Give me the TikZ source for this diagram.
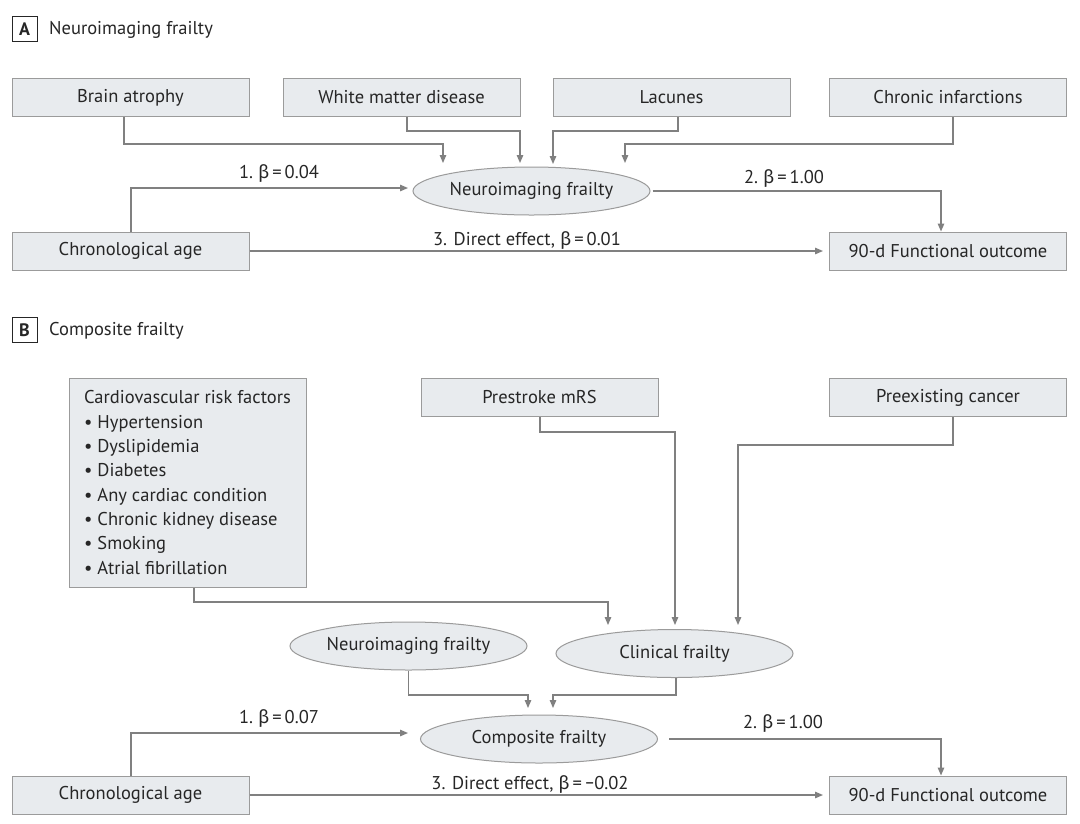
\documentclass[tikz,border=0pt]{standalone}
\usepackage{fontspec}
\setmainfont{PT Sans}
\newfontfamily\grk{Fira Sans}
\usetikzlibrary{arrows.meta,shapes.geometric}
\newcommand{\bb}{{\grk β}}
\newcommand{\mm}{{\grk −}}
\definecolor{boxfill}{HTML}{E8EBEE}
\definecolor{boxline}{HTML}{9B9B9B}
\definecolor{arrc}{HTML}{808080}
\definecolor{txt}{HTML}{262626}
\begin{document}
\begin{tikzpicture}[x=1pt,y=-1pt,
  font=\fontsize{18.5}{22}\selectfont,
  box/.style={draw=boxline, fill=boxfill, line width=1pt, minimum width=237pt, minimum height=38pt, inner sep=0pt, text=txt},
  oval/.style={ellipse, draw=boxline, fill=boxfill, line width=1pt, minimum width=237pt, minimum height=48pt, inner sep=0pt, text=txt},
  arr/.style={draw=arrc, line width=1.3pt, -{Triangle[length=8pt,width=6.5pt]}},
  lbl/.style={text=txt, inner sep=0pt},
  tag/.style={draw=txt, fill=white, line width=1pt, minimum size=25pt, inner sep=0pt, text=txt, font=\fontsize{18}{21}\selectfont\bfseries}]
\useasboundingbox[fill=white] (0,0) rectangle (1080,823);

% ---------- Panel A ----------
\node[tag] (pa) at (24.5,29) {A};
\node[lbl, anchor=west] (ta) at (49,30) {Neuroimaging frailty};

\node[box] (ba) at (130.5,97.5) {Brain atrophy};
\node[box] (wm) at (401.5,97.5) {White matter disease};
\node[box] (lc) at (671.5,97.5) {Lacunes};
\node[box] (ci) at (948,97.5) {Chronic infarctions};
\node[oval] (nf) at (531.5,191) {Neuroimaging frailty};
\node[box] (ca) at (130.5,251) {Chronological age};
\node[box] (fo) at (948,251) {90-d Functional outcome};

\coordinate (a1) at (443,163);
\coordinate (a2) at (520,163);
\coordinate (a3) at (553,164);
\coordinate (a4) at (625,163);
\coordinate (a5) at (408,188);

\draw[arr] ([xshift=-6.5pt]ba.south) |- (443,144) -- (a1);
\draw[arr] ([xshift=5.5pt]wm.south) |- (520,131) -- (a2);
\draw[arr] ([xshift=6.5pt]lc.south) |- (553,131) -- (a3);
\draw[arr] ([xshift=5pt]ci.south) |- (625,144) -- (a4);
\draw[arr] ([xshift=0.5pt]ca.north) |- (a5);
\draw[arr] ([xshift=2pt]nf.east) -| ([xshift=-7pt]fo.north);
\draw[arr, shorten >=6pt] (ca.east) -- (fo.west);

\node[lbl] (la1) at (279,174) {1.~\bb\,=\,0.04};
\node[lbl] (la2) at (784,179) {2.~\bb\,=\,1.00};
\node[lbl] (la3) at (527,241) {3. Direct effect, \bb\,=\,0.01};

% ---------- Panel B ----------
\node[tag] (pb) at (24.5,330) {B};
\node[lbl, anchor=west] (tb) at (49,331) {Composite frailty};

\node[box, minimum height=209pt, align=left,
      font=\fontsize{18.5}{24.3}\selectfont] (cv) at (187.5,482.5)
  {Cardiovascular risk factors\\
   • Hypertension\\
   • Dyslipidemia\\
   • Diabetes\\
   • Any cardiac condition\\
   • Chronic kidney disease\\
   • Smoking\\
   • Atrial fibrillation};
\node[box] (pm) at (539.5,397.5) {Prestroke mRS};
\node[box] (pc) at (948,397.5) {Preexisting cancer};
\node[oval] (nb) at (408.5,646) {Neuroimaging frailty};
\node[oval] (cl) at (674.5,653.5) {Clinical frailty};
\node[oval] (cf) at (539,739) {Composite frailty};
\node[box] (cb) at (130.5,795) {Chronological age};
\node[box] (fb) at (948,795) {90-d Functional outcome};

\coordinate (b1) at (608,625);
\coordinate (b2) at (675,625);
\coordinate (b3) at (738,625);
\coordinate (b4) at (528,708);
\coordinate (b5) at (553,708);
\coordinate (b6) at (408,733);

\draw[arr] ([xshift=6.5pt]cv.south) |- (608,602) -- (b1);
\draw[arr] ([xshift=0.5pt]pm.south) |- (675,432) -- (b2);
\draw[arr] ([xshift=5pt]pc.south) |- (738,445) -- (b3);
\draw[arr] (nb.south) |- (528,695) -- (b4);
\draw[arr] ([xshift=1.5pt]cl.south) |- (553,695) -- (b5);
\draw[arr] ([xshift=0.5pt]cb.north) |- (b6);
\draw[arr] ([xshift=11pt]cf.east) -| ([xshift=-7pt]fb.north);
\draw[arr, shorten >=6pt] (cb.east) -- (fb.west);

\node[lbl] (lb1) at (279,719) {1.~\bb\,=\,0.07};
\node[lbl] (lb2) at (783,724) {2.~\bb\,=\,1.00};
\node[lbl] (lb3) at (530,785) {3. Direct effect, \bb\,=\,\mm0.02};
\end{tikzpicture}
\end{document}
